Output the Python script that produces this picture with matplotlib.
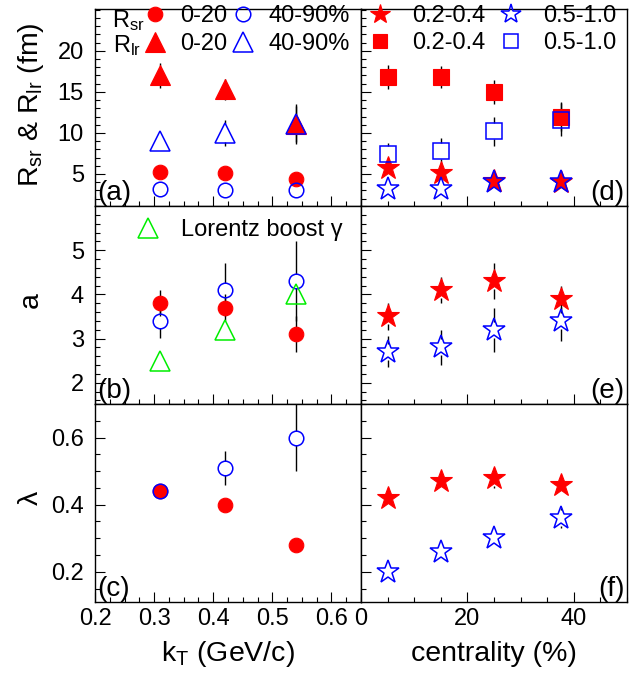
import matplotlib
matplotlib.use("Agg")
import matplotlib.pyplot as plt
from matplotlib.ticker import MultipleLocator, FixedLocator

plt.rcParams['font.family'] = ['Liberation Sans', 'DejaVu Sans']
plt.rcParams['mathtext.fontset'] = 'custom'
plt.rcParams['mathtext.rm'] = 'Liberation Sans'
plt.rcParams['mathtext.it'] = 'Liberation Sans'
plt.rcParams['mathtext.default'] = 'rm'

# ---------------- data ----------------
kt = [0.31, 0.42, 0.54]
rsr_0_20 = [5.3, 5.1, 4.4]
rsr_0_20_err = [0.2, 0.2, 0.2]
rsr_40_90 = [3.2, 3.0, 3.1]
rsr_40_90_err = [0.2, 0.2, 0.2]
rlr_0_20 = [17.0, 15.3, 11.1]
rlr_0_20_err = [1.5, 1.3, 2.4]
rlr_40_90 = [9.0, 10.0, 11.1]
rlr_40_90_err = [0.8, 1.6, 2.2]

a_0_20 = [3.8, 3.7, 3.1]
a_0_20_err = [0.3, 0.3, 0.4]
a_40_90 = [3.4, 4.1, 4.3]
a_40_90_err = [0.38, 0.6, 0.9]
gamma_boost = [2.5, 3.2, 4.0]

lam_0_20 = [0.44, 0.40, 0.28]
lam_0_20_err = [0.02, 0.02, 0.01]
lam_40_90 = [0.44, 0.51, 0.60]
lam_40_90_err = [0.02, 0.05, 0.10]

cent = [5, 15, 25, 37.5]
rsr_lo = [5.7, 5.1, 4.1, 4.0]
rsr_lo_err = [0.5, 0.4, 0.3, 0.3]
rsr_hi = [3.2, 3.2, 4.0, 4.0]
rsr_hi_err = [0.3, 0.3, 0.3, 0.3]
rlr_lo = [16.8, 16.8, 15.0, 12.0]
rlr_lo_err = [1.5, 1.3, 1.5, 1.8]
rlr_hi = [7.4, 7.8, 10.2, 11.6]
rlr_hi_err = [1.4, 1.6, 1.8, 2.0]

a_lo = [3.5, 4.1, 4.3, 3.9]
a_lo_err = [0.3, 0.3, 0.4, 0.3]
a_hi = [2.7, 2.8, 3.2, 3.4]
a_hi_err = [0.35, 0.4, 0.5, 0.45]

lam_lo = [0.42, 0.47, 0.48, 0.46]
lam_lo_err = [0.02, 0.02, 0.03, 0.02]
lam_hi = [0.20, 0.26, 0.30, 0.36]
lam_hi_err = [0.02, 0.02, 0.02, 0.03]

RED = '#ff0000'
BLUE = '#0000ff'
GREEN = '#00ee00'
FS_LEG = 17
FS_TICK = 17
FS_LAB = 20.5
FS_PAN = 20

W, H = 644, 673
fig = plt.figure(figsize=(W / 100, H / 100), dpi=100)

xl, xm, xr = 95, 361, 627
yb = [9, 206, 404, 602]
ylims = [(1.1, 25.1), (1.52, 6.0), (0.11, 0.70)]
yticks = [[5, 10, 15, 20], [2, 3, 4, 5], [0.2, 0.4, 0.6]]
yminor = [1, 0.2, 0.05]
yticklabels = [['5', '10', '15', '20'], ['2', '3', '4', '5'], ['0.2', '0.4', '0.6']]

axes = []
for i in range(3):
    row = []
    for (x0, x1) in [(xl, xm), (xm, xr)]:
        ax = fig.add_axes([x0 / W, 1 - yb[i + 1] / H, (x1 - x0) / W, (yb[i + 1] - yb[i]) / H])
        ax.set_ylim(*ylims[i])
        ax.yaxis.set_major_locator(FixedLocator(yticks[i]))
        ax.yaxis.set_minor_locator(MultipleLocator(yminor[i]))
        ax.tick_params(which='both', direction='in', top=False, right=False,
                       width=0.8, labelsize=FS_TICK)
        ax.tick_params(which='major', length=7.2)
        ax.tick_params(which='minor', length=3.6)
        ax.tick_params(axis='y', pad=8)
        ax.tick_params(axis='x', pad=4)
        for s in ax.spines.values():
            s.set_linewidth(1.0)
        row.append(ax)
    axes.append(row)

for i in range(3):
    axL, axR = axes[i]
    axL.set_xlim(0.2, 0.65)
    axL.xaxis.set_major_locator(FixedLocator([0.2, 0.3, 0.4, 0.5, 0.6]))
    axL.xaxis.set_minor_locator(MultipleLocator(0.025))
    axR.set_xlim(0, 50)
    axR.xaxis.set_major_locator(FixedLocator([0, 20, 40]))
    axR.xaxis.set_minor_locator(MultipleLocator(5))
    axR.tick_params(labelleft=False)
    axL.set_yticklabels(yticklabels[i])
    if i < 2:
        axL.tick_params(labelbottom=False)
        axR.tick_params(labelbottom=False)
    else:
        axL.set_xticklabels(['0.2', '0.3', '0.4', '0.5', '0.6'])
        axR.set_xticklabels(['0', '20', '40'])


def errs(ax, x, y, e, gap_px):
    y0, y1 = ax.get_ylim()
    hpx = ax.get_position().height * H
    g = gap_px * (y1 - y0) / hpx
    for xi, yi, ei in zip(x, y, e):
        if ei > g:
            ax.vlines(xi, yi + g, yi + ei, color='black', lw=1.0, zorder=2)
            ax.vlines(xi, yi - ei, yi - g, color='black', lw=1.0, zorder=2)


def series(ax, x, y, e, marker, color, filled, ms, gap, z):
    errs(ax, x, y, e, gap)
    if filled:
        ln, = ax.plot(x, y, ls='none', marker=marker, ms=ms, mfc=color, mec=color,
                      mew=0.8, zorder=z)
    else:
        ln, = ax.plot(x, y, ls='none', marker=marker, ms=ms, mfc='none', mec=color,
                      mew=1.1, zorder=z)
    return ln

MS_C, MS_T, MS_S, MS_Q = 10.5, 14, 17, 12

# (a)
ax = axes[0][0]
h_c_red = series(ax, kt, rsr_0_20, rsr_0_20_err, 'o', RED, True, MS_C, 7, 3)
h_t_red = series(ax, kt, rlr_0_20, rlr_0_20_err, '^', RED, True, MS_T, 9, 3)
h_c_blue = series(ax, kt, rsr_40_90, rsr_40_90_err, 'o', BLUE, False, MS_C, 7, 4)
h_t_blue = series(ax, kt, rlr_40_90, rlr_40_90_err, '^', BLUE, False, MS_T, 9, 4)
ax.legend(handles=[h_c_red, h_t_red, h_c_blue, h_t_blue],
          labels=['0-20', '0-20', '40-90%', '40-90%'], ncol=2,
          loc='upper left', bbox_to_anchor=(0.181, 1.02), frameon=False,
          fontsize=FS_LEG, handlelength=1.0, handletextpad=0.55, columnspacing=0.2,
          labelspacing=0.25, borderpad=0, borderaxespad=0, numpoints=1)
ax.text(0.064, 0.910, r'R$_{sr}$', transform=ax.transAxes, fontsize=FS_LEG, va='baseline')
ax.text(0.068, 0.780, r'R$_{lr}$', transform=ax.transAxes, fontsize=FS_LEG, va='baseline')
ax.text(0.008, 0.0, '(a)', transform=ax.transAxes, fontsize=FS_PAN, va='bottom')

# (d)
ax = axes[0][1]
h_s_red = series(ax, cent, rsr_lo, rsr_lo_err, '*', RED, True, MS_S, 8, 3)
h_q_red = series(ax, cent, rlr_lo, rlr_lo_err, 's', RED, True, MS_Q, 8, 3)
h_s_blue = series(ax, cent, rsr_hi, rsr_hi_err, '*', BLUE, False, MS_S, 8, 4)
h_q_blue = series(ax, cent, rlr_hi, rlr_hi_err, 's', BLUE, False, MS_Q, 8, 4)
ax.legend(handles=[h_s_red, h_q_red, h_s_blue, h_q_blue],
          labels=['0.2-0.4', '0.2-0.4', '0.5-1.0', '0.5-1.0'], ncol=2,
          loc='upper left', bbox_to_anchor=(0.027, 1.02), frameon=False,
          fontsize=FS_LEG, handlelength=1.0, handletextpad=0.86, columnspacing=0.6,
          labelspacing=0.2, borderpad=0, borderaxespad=0, numpoints=1,
          markerscale=0.85)
ax.text(0.99, 0.0, '(d)', transform=ax.transAxes, fontsize=FS_PAN, va='bottom', ha='right')

# (b)
ax = axes[1][0]
series(ax, kt, a_0_20, a_0_20_err, 'o', RED, True, MS_C, 7, 3)
series(ax, kt, a_40_90, a_40_90_err, 'o', BLUE, False, MS_C, 7, 4)
h_g = ax.plot(kt, gamma_boost, ls='none', marker='^', ms=MS_T, mfc='none',
              mec=GREEN, mew=1.1, zorder=4)[0]
ax.legend(handles=[h_g], labels=['Lorentz boost γ'], loc='upper left',
          bbox_to_anchor=(0.155, 0.935), frameon=False, fontsize=FS_LEG,
          handlelength=1.0, handletextpad=0.89, borderpad=0, borderaxespad=0,
          numpoints=1)
ax.text(0.008, 0.0, '(b)', transform=ax.transAxes, fontsize=FS_PAN, va='bottom')

# (e)
ax = axes[1][1]
series(ax, cent, a_lo, a_lo_err, '*', RED, True, MS_S, 8, 3)
series(ax, cent, a_hi, a_hi_err, '*', BLUE, False, MS_S, 8, 4)
ax.text(0.99, 0.0, '(e)', transform=ax.transAxes, fontsize=FS_PAN, va='bottom', ha='right')

# (c)
ax = axes[2][0]
series(ax, kt, lam_0_20, lam_0_20_err, 'o', RED, True, MS_C, 7, 3)
series(ax, kt, lam_40_90, lam_40_90_err, 'o', BLUE, False, MS_C, 7, 4)
ax.text(0.008, 0.0, '(c)', transform=ax.transAxes, fontsize=FS_PAN, va='bottom')

# (f)
ax = axes[2][1]
series(ax, cent, lam_lo, lam_lo_err, '*', RED, True, MS_S, 8, 3)
series(ax, cent, lam_hi, lam_hi_err, '*', BLUE, False, MS_S, 8, 4)
ax.text(0.99, 0.0, '(f)', transform=ax.transAxes, fontsize=FS_PAN, va='bottom', ha='right')

# axis labels
fig.text(31 / W, 1 - 105 / H, r'R$_{sr}$ & R$_{lr}$ (fm)', rotation=90,
         ha='center', va='center', fontsize=FS_LAB)
fig.text(31 / W, 1 - 300 / H, 'a', rotation=90, ha='center', va='center', fontsize=FS_LAB)
fig.text(31 / W, 1 - 498 / H, 'λ', rotation=90, ha='center', va='center', fontsize=FS_LAB)
fig.text(228 / W, 1 - 661 / H, r'k$_{T}$ (GeV/c)', ha='center', va='baseline', fontsize=FS_LAB)
fig.text(494 / W, 1 - 661 / H, 'centrality (%)', ha='center', va='baseline', fontsize=FS_LAB)

fig.savefig('out.png', dpi=100)
